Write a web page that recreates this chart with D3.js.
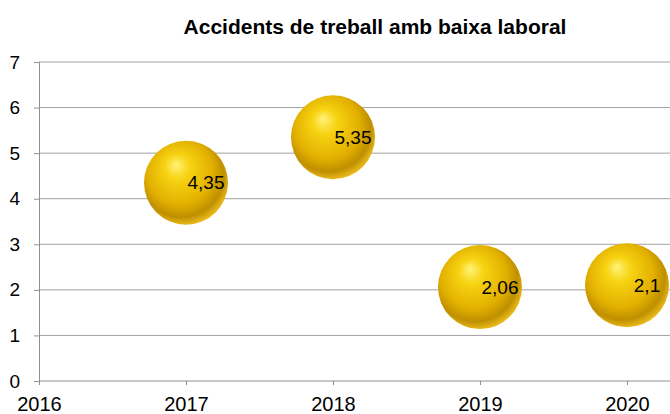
<!DOCTYPE html>
<html>
<head>
<meta charset="utf-8">
<script src="https://cdn.jsdelivr.net/npm/d3@7"></script>
<style>
  body { margin: 0; background: #fff; }
  text { font-family: "Liberation Sans", Arial, sans-serif; }
</style>
</head>
<body>
<svg id="chart" width="670" height="414"></svg>
<script>
// data
const years = [2017, 2018, 2019, 2020];
const values = [4.35, 5.35, 2.06, 2.1];
const labels = ["4,35", "5,35", "2,06", "2,1"];
const yTicks = [0, 1, 2, 3, 4, 5, 6, 7];
const xTicks = [2016, 2017, 2018, 2019, 2020];

var svg = d3.select("#chart");
const width = +svg.attr("width");
const height = +svg.attr("height");

// plot area
const plotLeft = 39;
const plotTop = 62;
const plotBottom = 381;

var x = d3.scaleLinear().domain([2016, 2020]).range([plotLeft, 627]);
var y = d3.scaleLinear().domain([0, 7]).range([plotBottom, plotTop]);

// gold bubble gradient
var defs = svg.append("defs");
var grad = defs.append("radialGradient")
    .attr("id", "gold")
    .attr("cx", "0.45").attr("cy", "0.42").attr("r", "0.6")
    .attr("fx", "0.38").attr("fy", "0.28");
grad.append("stop").attr("offset", "0%").attr("stop-color", "#fff37a");
grad.append("stop").attr("offset", "25%").attr("stop-color", "#f7d312");
grad.append("stop").attr("offset", "65%").attr("stop-color", "#e2b000");
grad.append("stop").attr("offset", "85%").attr("stop-color", "#bf8f00");
grad.append("stop").attr("offset", "100%").attr("stop-color", "#f0c020");

// horizontal grid lines
svg.append("g")
    .selectAll("line")
    .data(yTicks.filter(d => d > 0))
    .join("line")
    .attr("x1", plotLeft).attr("x2", width)
    .attr("y1", d => y(d)).attr("y2", d => y(d))
    .attr("stroke", "#a0a0a0")
    .attr("stroke-width", 1);

// y axis
var leftAxis = d3.axisLeft(y).tickValues(yTicks).tickSize(5).tickFormat(d3.format("d"));
var gy = svg.append("g")
    .attr("transform", "translate(" + plotLeft + ",0)")
    .call(leftAxis);
gy.select(".domain").attr("stroke", "#909090");
gy.selectAll(".tick line").attr("stroke", "#909090");
gy.selectAll(".tick text")
    .attr("x", -19)
    .attr("font-size", 19)
    .attr("fill", "#000");

// x axis
var bottomAxis = d3.axisBottom(x).tickValues(xTicks).tickSize(4).tickFormat(d3.format("d"));
var gx = svg.append("g")
    .attr("transform", "translate(0," + plotBottom + ")")
    .call(bottomAxis);
gx.select(".domain").remove();
gx.append("line")
    .attr("x1", plotLeft).attr("x2", width)
    .attr("stroke", "#909090");
gx.selectAll(".tick line").attr("stroke", "#909090");
gx.selectAll(".tick text")
    .attr("y", 16)
    .attr("font-size", 20)
    .attr("fill", "#000");

// bubbles
var points = years.map((yr, i) => ({ year: yr, value: values[i], label: labels[i] }));

svg.append("g")
    .selectAll("circle")
    .data(points)
    .join("circle")
    .attr("cx", d => x(d.year))
    .attr("cy", d => y(d.value))
    .attr("r", 42)
    .attr("fill", "url(#gold)");

// value labels
svg.append("g")
    .selectAll("text")
    .data(points)
    .join("text")
    .attr("x", d => x(d.year) + 20)
    .attr("y", d => y(d.value))
    .attr("dy", "0.35em")
    .attr("text-anchor", "middle")
    .attr("font-size", 19)
    .attr("fill", "#000")
    .text(d => d.label);

// title
svg.append("text")
    .attr("x", 375)
    .attr("y", 34)
    .attr("text-anchor", "middle")
    .attr("font-size", 21)
    .attr("font-weight", "bold")
    .text("Accidents de treball amb baixa laboral");
</script>
</body>
</html>
